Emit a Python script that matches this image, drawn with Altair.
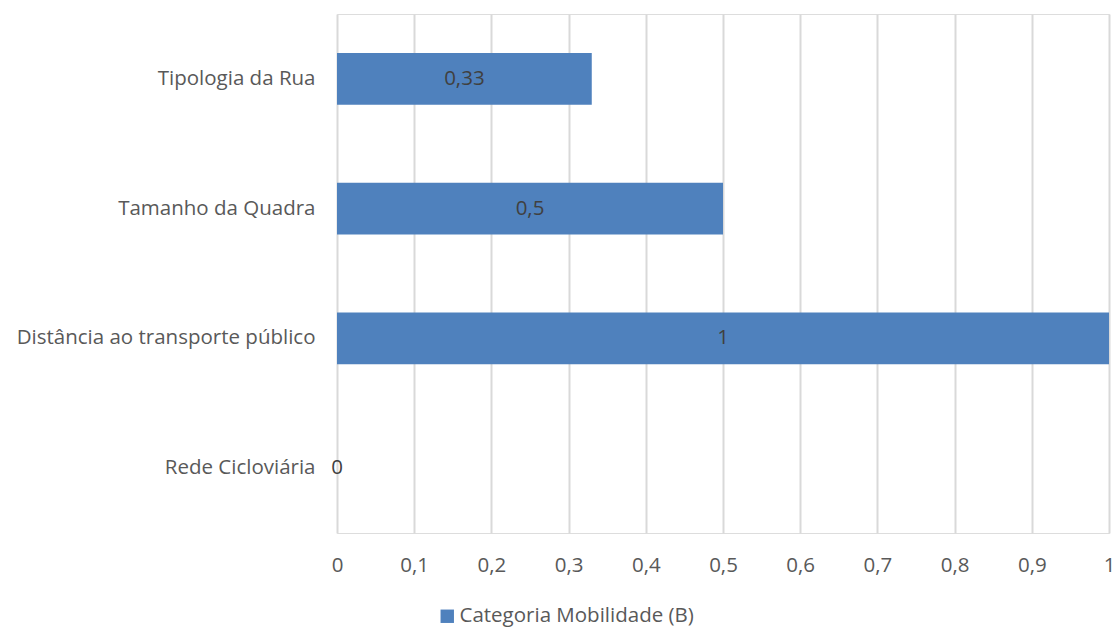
import altair as alt
import pandas as pd

categories = [
    "Tipologia da Rua",
    "Tamanho da Quadra",
    "Distância ao transporte público",
    "Rede Cicloviária",
]
values = [0.33, 0.5, 1.0, 0.0]
series_name = "Categoria Mobilidade (B)"
tick_values = [0, 0.1, 0.2, 0.3, 0.4, 0.5, 0.6, 0.7, 0.8, 0.9, 1]

df = pd.DataFrame({"categoria": categories, "valor": values, "serie": series_name})

FONT = "Open Sans"
FS = 20.5
BAR = "#4F81BD"

y_enc = alt.Y(
    "categoria:N",
    sort=categories,
    scale=alt.Scale(paddingInner=0.6, paddingOuter=0.3),
    axis=alt.Axis(
        title=None, domain=False, ticks=False, labelPadding=22,
        labelFont=FONT, labelFontSize=FS, labelColor="#595959", labelLimit=400,
    ),
)
x_axis = alt.Axis(
    title=None, domain=False, ticks=False, values=tick_values,
    labelExpr="replace(format(datum.value, '~g'), '.', ',')",
    labelPadding=22, labelFont=FONT, labelFontSize=FS, labelColor="#595959",
    labelOverlap=False, labelFlush=False,
    grid=True, gridColor="#D9D9D9", gridWidth=2,
)

bars = alt.Chart(df).mark_bar().encode(
    y=y_enc,
    x=alt.X("valor:Q", scale=alt.Scale(domain=[0, 1], nice=False), axis=x_axis),
    color=alt.Color(
        "serie:N",
        scale=alt.Scale(range=[BAR]),
        legend=alt.Legend(
            title=None, orient="none", legendX=100, legendY=592,
            symbolType="square", symbolSize=180, symbolStrokeWidth=0,
            labelFont=FONT, labelFontSize=FS, labelColor="#595959",
            labelOffset=2, labelLimit=400,
        ),
    ),
)

labels = alt.Chart(df).transform_calculate(
    lbl="replace(format(datum.valor, '~g'), '.', ',')",
    mid="datum.valor / 2",
).mark_text(font=FONT, fontSize=FS, color="#404040").encode(
    y=alt.Y("categoria:N", sort=categories),
    x=alt.X("mid:Q", axis=x_axis),
    text="lbl:N",
)

chart = (
    alt.layer(bars, labels)
    .properties(
        width=772, height=519,
        autosize=alt.AutoSizeParams(type="none"),
        padding={"left": 337, "top": 14, "right": 6, "bottom": 95},
    )
    .configure_view(stroke=None)
    .configure(background="white")
)

chart.save("out.html", embed_options={"renderer": "svg", "actions": False})
